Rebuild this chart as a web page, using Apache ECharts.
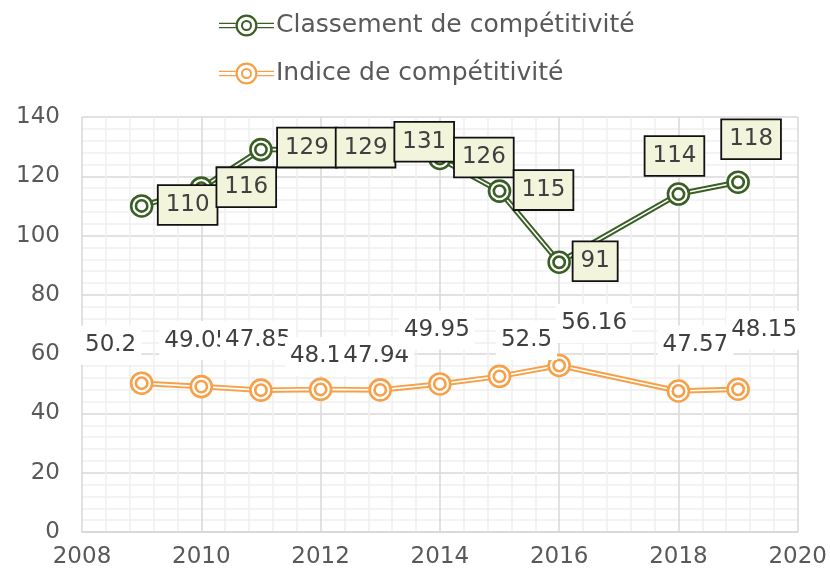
<!DOCTYPE html>
<html>
<head>
<meta charset="utf-8">
<script src="https://cdn.jsdelivr.net/npm/echarts@6/dist/echarts.min.js"></script>
<style>
  html, body { margin: 0; padding: 0; background: #fff; }
  #chart { width: 830px; height: 579px; }
</style>
</head>
<body>
<div id="chart"></div>
<script>
// data
var years = [2009, 2010, 2011, 2012, 2013, 2014, 2015, 2016, 2018, 2019]
var classement = [110, 116, 129, 129, 131, 126, 115, 91, 114, 118]
var indice = [50.2, 49.05, 47.85, 48.1, 47.94, 49.95, 52.5, 56.16, 47.57, 48.15]
var xTicks = { min: 2008, max: 2020, step: 2 }
var yTicks = { min: 0, max: 140, step: 20 }

// label placement (pixels from the point), like the hand-moved labels of the original
var classementOffsets = [[46, -1], [45, -1], [46, -2], [45, -2], [44, -2], [44, -1], [44, -1], [36, -1], [-4, -38], [13, -43]]
var indiceOffsets = [[-31, -38], [-4, -46], [-3, -50], [-5, -33], [-4, -34], [-3, -54], [27, -36], [35, -42], [17, -46], [26, -59]]

var green = '#3a5f24'
var orange = '#f7a04a'
var font = 'DejaVu Sans'

var ring = 'path://M0,10A10,10 0 1,1 20,10A10,10 0 1,1 0,10ZM4.6,10A5.4,5.4 0 1,1 15.4,10A5.4,5.4 0 1,1 4.6,10Z'
var legendIcon = 'path://M0,9.2H16.6V10.6H0ZM0,13.4H16.6V14.8H0ZM38.4,9.2H55V10.6H38.4ZM38.4,13.4H55V14.8H38.4Z' +
  'M16.5,12a11,11 0 1,1 22,0a11,11 0 1,1 -22,0ZM18.7,12a8.8,8.8 0 1,0 17.6,0a8.8,8.8 0 1,0 -17.6,0Z' +
  'M22,12a5.5,5.5 0 1,1 11,0a5.5,5.5 0 1,1 -11,0ZM24,12a3.5,3.5 0 1,0 7,0a3.5,3.5 0 1,0 -7,0Z'

function points (values, offsets) {
  return values.map(function (v, i) {
    return { value: [years[i], v], label: { offset: offsets[i] } }
  })
}

function plain (values) {
  return values.map(function (v, i) { return [years[i], v] })
}

var chart = echarts.init(document.getElementById('chart'))

var option = {
  animation: false,
  textStyle: { fontFamily: font },
  legend: {
    orient: 'vertical',
    left: 214,
    top: 8,
    itemWidth: 55,
    itemHeight: 24,
    itemGap: 23,
    data: [
      { name: 'Classement de compétitivité', icon: legendIcon },
      { name: 'Indice de compétitivité', icon: legendIcon }
    ],
    textStyle: { fontFamily: font, fontSize: 25, color: '#595959', padding: [0, 0, 0, -3] }
  },
  grid: { left: 82, right: 30, top: 117, bottom: 47 },
  xAxis: {
    type: 'value',
    min: xTicks.min,
    max: xTicks.max,
    interval: xTicks.step,
    axisLine: { show: true, onZero: false, lineStyle: { color: '#d9d9d9', width: 2 } },
    axisTick: { show: false },
    axisLabel: {
      fontFamily: font, fontSize: 23, color: '#595959', margin: 14,
      formatter: function (v) { return String(v) }
    },
    splitLine: { show: true, lineStyle: { color: '#d9d9d9', width: 1.5 } },
    minorTick: { show: false, splitNumber: 5 },
    minorSplitLine: { show: true, lineStyle: { color: '#f0f0f0', width: 1.5 } }
  },
  yAxis: {
    type: 'value',
    min: yTicks.min,
    max: yTicks.max,
    interval: yTicks.step,
    axisLine: { show: false },
    axisTick: { show: false },
    axisLabel: { fontFamily: font, fontSize: 23, color: '#595959', margin: 22 },
    splitLine: { show: true, lineStyle: { color: '#d9d9d9', width: 1.5 } },
    minorTick: { show: false, splitNumber: 5 },
    minorSplitLine: { show: true, lineStyle: { color: '#f0f0f0', width: 1.5 } }
  },
  series: [
    {
      name: 'Classement de compétitivité',
      type: 'line',
      data: plain(classement),
      symbol: 'none',
      color: green,
      itemStyle: { color: green },
      lineStyle: { color: green, width: 5.5 },
      z: 2
    },
    {
      name: 'Indice de compétitivité',
      type: 'line',
      data: plain(indice),
      symbol: 'none',
      color: orange,
      itemStyle: { color: orange },
      lineStyle: { color: orange, width: 5.5 },
      z: 2
    },
    {
      name: 'classement-inner',
      type: 'line',
      data: points(classement, classementOffsets),
      symbol: ring,
      symbolSize: 21,
      itemStyle: { color: '#fff', borderColor: green, borderWidth: 2.6 },
      lineStyle: { color: '#fff', width: 1.6 },
      label: {
        show: true,
        position: 'inside',
        fontFamily: font,
        fontSize: 23,
        color: '#404040',
        backgroundColor: '#f2f4db',
        borderColor: '#111',
        borderWidth: 1.8,
        padding: [8, 7, 7, 7],
        formatter: function (p) { return p.value[1] }
      },
      z: 4
    },
    {
      name: 'indice-inner',
      type: 'line',
      data: points(indice, indiceOffsets),
      symbol: ring,
      symbolSize: 21,
      itemStyle: { color: '#fff', borderColor: orange, borderWidth: 2.6 },
      lineStyle: { color: '#fff', width: 1.6 },
      label: {
        show: true,
        position: 'inside',
        fontFamily: font,
        fontSize: 23,
        color: '#404040',
        backgroundColor: '#fff',
        padding: [8, 5, 8, 5],
        formatter: function (p) { return p.value[1] }
      },
      z: 3
    }
  ]
}

chart.setOption(option)
</script>
</body>
</html>
